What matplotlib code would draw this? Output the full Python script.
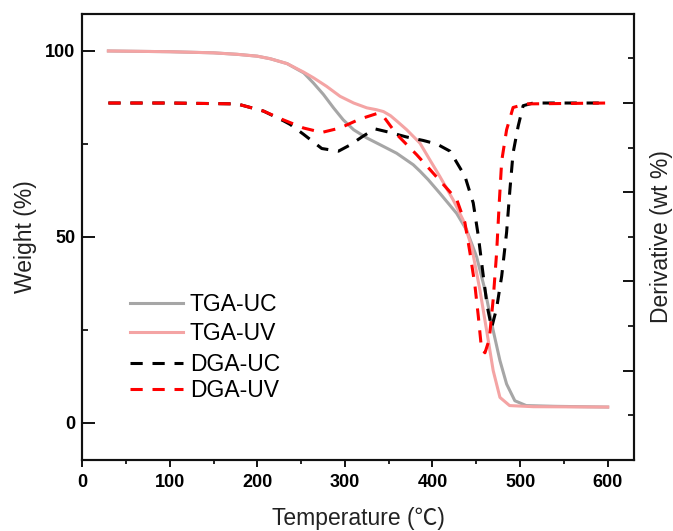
import matplotlib
matplotlib.use("Agg")
import matplotlib.pyplot as plt
from matplotlib.ticker import MultipleLocator, NullFormatter

# TGA curves (weight %)
tga_uc_x = [30, 100, 150, 177, 200, 215, 234, 253, 264, 275.5, 287, 298, 310, 325, 340, 359,
            378, 386, 395, 408.5, 427.6, 439, 450.4, 460, 469.3, 477, 484.6, 494, 507, 540, 600]
tga_uc_y = [100.0, 99.8, 99.5, 99.1, 98.6, 97.9, 96.6, 94.1, 91.4, 88.3, 84.7, 81.5, 78.8, 76.6, 74.8, 72.5,
            69.4, 67.6, 65.4, 61.7, 56.3, 51.8, 44.6, 35.6, 24.8, 16.7, 10.4, 5.9, 4.6, 4.4, 4.2]

tga_uv_x = [30, 100, 150, 177, 200, 215, 234, 253, 264, 279, 294.5, 310, 325, 336, 344, 352, 360, 370.6,
            385.7, 397, 408.5, 423.7, 435, 444.7, 454.2, 461.8, 469.3, 477, 488, 515, 600]
tga_uv_y = [100.0, 99.8, 99.5, 99.1, 98.6, 97.9, 96.6, 94.3, 92.8, 90.5, 87.8, 86.0, 84.7, 84.2, 83.7, 82.6, 81.0, 78.8,
            75.2, 70.7, 66.2, 59.9, 54.5, 47.3, 35.6, 24.8, 14.0, 6.8, 4.6, 4.3, 4.2]

# DGA (derivative) curves
dga_uc_x = [30, 100, 177, 207, 230, 237.5, 252.7, 273.6, 292.6, 306, 321, 334.4, 351.5, 370, 389.5,
            405, 420, 437, 446.5, 452.3, 458, 462.5, 467.5, 473.2, 479, 484.6, 488.4, 492, 497.8,
            503.5, 515, 600]
dga_uc_y = [3.0, 3.0, 2.99, 2.91, 2.80, 2.76, 2.65, 2.49, 2.46, 2.53, 2.63, 2.71, 2.67, 2.62, 2.58,
            2.54, 2.46, 2.18, 1.88, 1.51, 1.06, 0.72, 0.48, 0.70, 1.06, 1.55, 2.03, 2.44, 2.74,
            2.97, 3.0, 3.0]

dga_uv_x = [30, 100, 177, 207, 230, 252.7, 273.6, 294.5, 317, 336, 344, 359, 382, 404.8, 427.6,
            437, 442.8, 448.5, 452.3, 456, 459.9, 464.8, 469.3, 473.2, 476.2, 479, 484.6, 492, 507, 600]
dga_uv_y = [3.0, 3.0, 2.99, 2.91, 2.81, 2.72, 2.67, 2.72, 2.82, 2.88, 2.85, 2.65, 2.42, 2.17, 1.92,
            1.66, 1.32, 0.95, 0.61, 0.24, 0.20, 0.35, 0.80, 1.32, 1.88, 2.35, 2.70, 2.95, 2.99, 3.0]

x_ticks = [0, 100, 200, 300, 400, 500, 600]
y_ticks = [0, 50, 100]

fig = plt.figure(figsize=(6.73, 5.31), dpi=100)
ax = fig.add_axes([0.122, 0.134, 0.820, 0.840])
ax2 = ax.twinx()

l1, = ax.plot(tga_uc_x, tga_uc_y, color="#a6a6a6", lw=2.2, label="TGA-UC", zorder=3)
l2, = ax.plot(tga_uv_x, tga_uv_y, color="#f4a4a4", lw=2.2, label="TGA-UV", zorder=3)
l3, = ax2.plot(dga_uc_x, dga_uc_y, color="black", lw=2.2, ls=(0, (4, 3.2)), label="DGA-UC")
l4, = ax2.plot(dga_uv_x, dga_uv_y, color="#ff0000", lw=2.2, ls=(0, (4, 3.2)), label="DGA-UV")

ax.set_xlim(0, 630)
ax.set_ylim(-10, 110)
ax2.set_ylim(-1, 4)

ax.set_xticks(x_ticks)
ax.set_yticks(y_ticks)
ax.xaxis.set_minor_locator(MultipleLocator(50))
ax.yaxis.set_minor_locator(MultipleLocator(25))
ax2.yaxis.set_major_locator(MultipleLocator(1))
ax2.yaxis.set_minor_locator(MultipleLocator(0.5))
ax2.yaxis.set_major_formatter(NullFormatter())

for a in (ax, ax2):
    for s in a.spines.values():
        s.set_linewidth(1.5)
        s.set_color("#111111")

ax.tick_params(axis="x", which="major", direction="out", length=5, width=1.3, pad=5.5)
ax.tick_params(axis="x", which="minor", direction="out", length=3, width=1.2)
ax.tick_params(axis="y", which="major", direction="in", length=9, width=1.3, pad=5)
ax.tick_params(axis="y", which="minor", direction="in", length=4, width=1.2)
ax2.tick_params(axis="y", which="major", direction="in", length=8, width=1.3)
ax2.tick_params(axis="y", which="minor", direction="in", length=4, width=1.2)

for lab in ax.get_xticklabels() + ax.get_yticklabels():
    lab.set_fontfamily("Liberation Sans")
    lab.set_fontweight("bold")
    lab.set_fontsize(13)

ax.set_xlabel("Temperature (℃)", family=["Liberation Sans", "Noto Sans CJK SC"], fontsize=16.5,
              color="#222222", labelpad=11)
ax.set_ylabel("Weight (%)", family=["Liberation Sans"], fontsize=16.5, color="#222222", labelpad=6)
ax2.set_ylabel("Derivative (wt %)", family=["Liberation Sans"], fontsize=16.5, color="#222222", labelpad=8)

leg_kw = dict(loc="upper left", frameon=False, prop={"family": "Liberation Sans", "size": 16.5},
              handlelength=2.3, handletextpad=0.3, borderaxespad=0, borderpad=0)
leg1 = ax2.legend(handles=[l1, l2], bbox_to_anchor=(0.087, 0.374), labelspacing=0.24, **leg_kw)
ax2.add_artist(leg1)
leg2 = ax2.legend(handles=[l3, l4], bbox_to_anchor=(0.087, 0.240), labelspacing=0.12, **leg_kw)

fig.savefig("out.png", dpi=100)
